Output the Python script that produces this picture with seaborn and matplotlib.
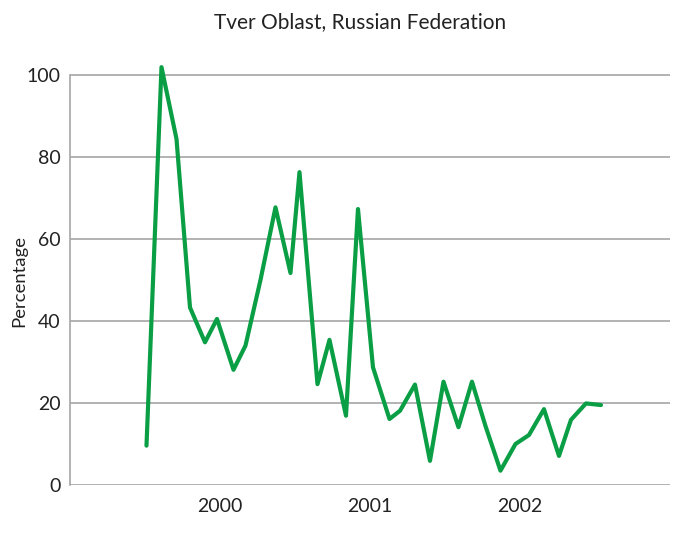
import pandas as pd
import matplotlib.pyplot as plt
import seaborn as sns

# fractional years, with the percentage at each point
years = [1999.51, 1999.61, 1999.71, 1999.80, 1999.90, 1999.98, 2000.09, 2000.17,
         2000.27, 2000.37, 2000.47, 2000.53, 2000.65, 2000.73, 2000.84, 2000.92,
         2001.02, 2001.13, 2001.20, 2001.30, 2001.40, 2001.49, 2001.59, 2001.68,
         2001.77, 2001.87, 2001.97, 2002.06, 2002.16, 2002.26, 2002.34, 2002.44,
         2002.54]
percentage = [9.6, 101.9, 84.4, 43.3, 34.8, 40.5, 28.1, 34.0,
              50.0, 67.7, 51.7, 76.3, 24.6, 35.4, 16.9, 67.3,
              28.7, 16.1, 18.1, 24.5, 5.9, 25.2, 14.1, 25.2,
              14.4, 3.5, 10.0, 12.2, 18.5, 7.1, 15.9, 19.9,
              19.5]
year_ticks = [2000, 2001, 2002]
y_ticks = [0, 20, 40, 60, 80, 100]

df = pd.DataFrame({'Year': years, 'Percentage': percentage})

sns.set_style('white')
plt.rcParams['font.family'] = ['Lato', 'DejaVu Sans']

fig = plt.figure(figsize=(6.73, 5.47), dpi=100)
ax = fig.add_axes([0.104, 0.1133, 0.8915, 0.7797])

sns.lineplot(data=df, x='Year', y='Percentage', color='#0a9e45', linewidth=3, ax=ax)

ax.set_xlim(1999, 2003)
ax.set_ylim(0, 104)
ax.set_xticks(year_ticks)
ax.set_xticklabels([str(y) for y in year_ticks])
ax.set_yticks(y_ticks)
ax.yaxis.grid(True, color='#a6a6a6', linewidth=1.2)
ax.set_axisbelow(True)
for s in ['top', 'right', 'bottom']:
    ax.spines[s].set_visible(False)
ax.spines['left'].set_color('#a6a6a6')
ax.spines['left'].set_linewidth(1.2)
ax.spines['left'].set_bounds(0, 100)
ax.tick_params(axis='both', length=0, labelsize=14, colors='#222222')
ax.tick_params(axis='y', pad=7)
ax.tick_params(axis='x', pad=9)
ax.set_xlabel('')
ax.set_ylabel('Percentage', fontsize=13.3, color='#222222', va='center')
ax.yaxis.set_label_coords((19 - 70) / 600, (485 - 281) / 426.4)

fig.text(360 / 673, 1 - 22 / 547, 'Tver Oblast, Russian Federation',
         ha='center', va='center', fontsize=15, color='#222222')

fig.savefig('out.png', dpi=100)
